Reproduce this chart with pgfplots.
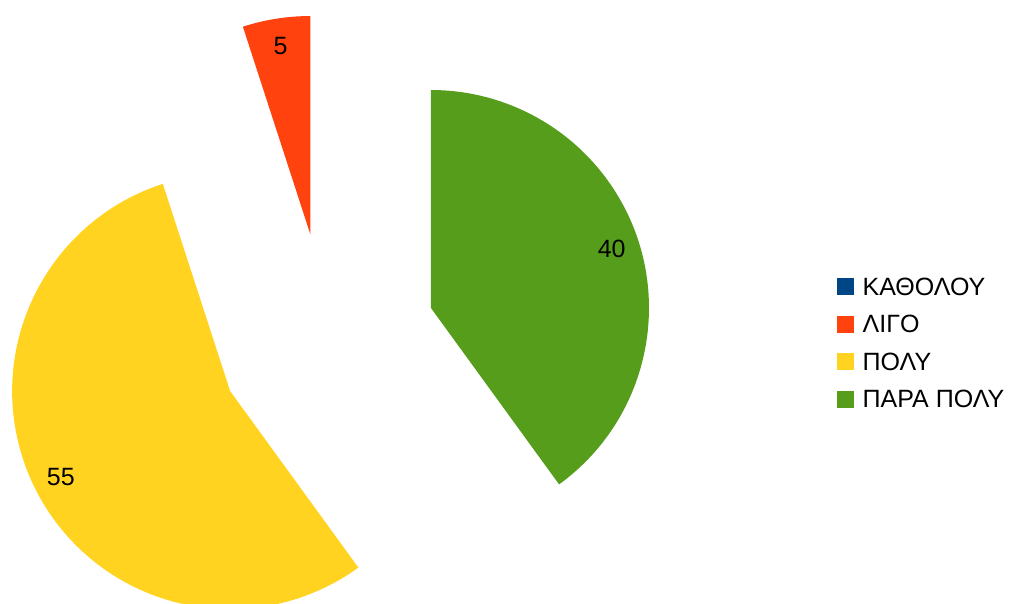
\documentclass[border=0pt]{standalone}
\usepackage{pgfplots}
\usepackage{pgfplotstable}
\pgfplotsset{compat=1.18}
\usepackage{fontspec}
\setmainfont{Liberation Sans}
\definecolor{c1}{HTML}{004586}
\definecolor{c2}{HTML}{FF420E}
\definecolor{c3}{HTML}{FFD320}
\definecolor{c4}{HTML}{579D1C}
\pgfplotstableread{
idx value
0 0
1 5
2 55
3 40
}\piedata
\begin{document}
\begin{tikzpicture}
\begin{axis}[x=1pt,y=1pt,xmin=0,xmax=1016,ymin=0,ymax=603,hide axis,clip=false,
  legend cell align=left,
  legend style={draw=none,fill=none,inner sep=0pt,at={(axis cs:837,326)},anchor=north west,
    font=\fontsize{25}{29}\selectfont,row sep=19.5pt,
    nodes={inner sep=0pt,text height=18pt,text depth=0pt}},
  legend image code/.code={\fill[#1] (0pt,-8pt) rectangle (16pt,8pt);}]
\addlegendimage{c1}\addlegendentry{\hspace{9pt}ΚΑΘΟΛΟΥ}
\addlegendimage{c2}\addlegendentry{\hspace{9pt}ΛΙΓΟ}
\addlegendimage{c3}\addlegendentry{\hspace{9pt}ΠΟΛΥ}
\addlegendimage{c4}\addlegendentry{\hspace{9pt}ΠΑΡΑ ΠΟΛΥ}
\pgfplotsextra{
  \gdef\startang{90}
  \foreach \i/\col in {0/c1,1/c2,2/c3,3/c4}{
    \pgfplotstablegetelem{\i}{value}\of\piedata
    \let\v\pgfplotsretval
    \pgfmathsetmacro\endang{\startang+3.6*\v}
    \pgfmathsetmacro\midang{(\startang+\endang)/2}
    \pgfmathsetmacro\cx{327.3+109*cos(\midang)}
    \pgfmathsetmacro\cy{261.3+109*sin(\midang)}
    \pgfmathsetmacro\lx{\cx+190*cos(\midang)}
    \pgfmathsetmacro\ly{\cy+190*sin(\midang)}
    \ifdim\v pt>0pt
      \fill[\col] (axis cs:\cx,\cy) -- ++(\startang:218pt) arc[start angle=\startang, end angle=\endang, radius=218pt] -- cycle;
      \node[font=\fontsize{25}{29}\selectfont] at (axis cs:\lx,\ly) {\v};
    \fi
    \xdef\startang{\endang}
  }
}
\end{axis}
\pgfresetboundingbox
\path (current axis.south west) rectangle (current axis.north east);
\end{tikzpicture}
\end{document}
